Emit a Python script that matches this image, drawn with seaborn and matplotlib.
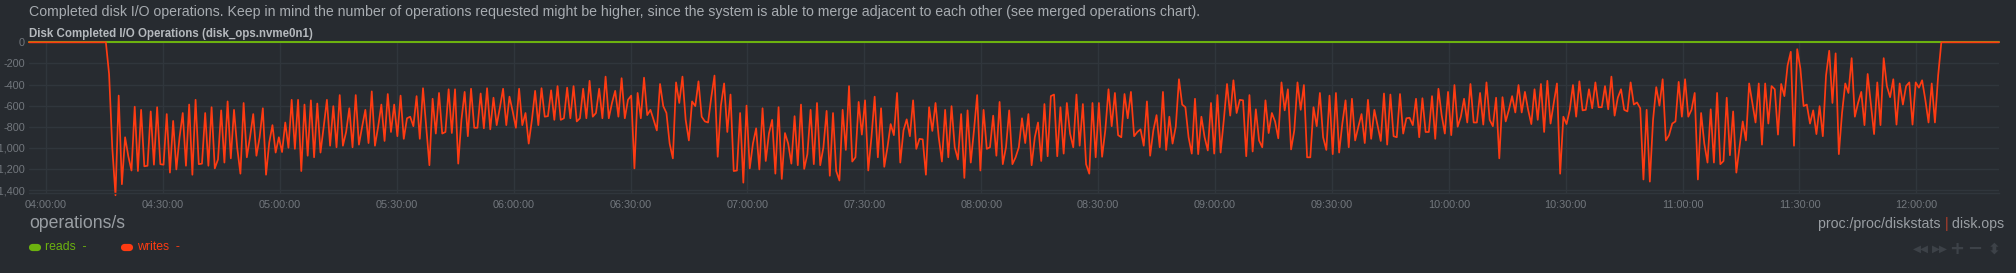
import numpy as np
import pandas as pd
import matplotlib
matplotlib.use("Agg")
import matplotlib.pyplot as plt
from matplotlib.lines import Line2D
import seaborn as sns

# ---------------- data ----------------
start_time = "2024-01-01 03:55:38"
end_time = "2024-01-01 12:21:12"

lead_zeros = [0] * 25
seg1 = [-300, -1000, -1450, -505, -1345, -900, -1080, -1215, -610, -1220,
        -640, -1175, -1170, -655, -1160, -615, -1155, -1160, -680, -1235,
        -745, -1205, -900, -670, -1170, -590, -1255, -545, -1155, -1150,
        -670, -1170, -615, -1195, -1110, -645, -1140, -560, -1100, -640,
        -1000, -1245, -575, -1090, -900, -680, -1075, -900, -625, -1255,
        -950, -785, -1045, -900, -1040, -760, -1000, -545, -1010, -545,
        -1220, -590, -1075, -550, -1090, -580, -1045, -800, -545, -980,
        -605, -995, -500, -980, -850, -625, -995, -500, -970, -800,
        -640, -955, -465, -980, -800, -590, -935, -490, -850, -590, -890]
seg2 = [-505, -915, -720, -705, -795, -510, -915, -435, -800, -1165,
        -535, -865, -480, -865, -850, -445, -860, -445, -1150, -735,
        -470, -890, -440, -810, -810, -485, -815, -435, -825, -525,
        -785, -620, -440, -785, -515, -655, -810, -440, -785, -670,
        -960, -735, -460, -785, -435, -705, -700, -455, -735, -415,
        -735, -720, -430, -720, -415, -750, -720, -440, -720, -365,
        -705, -670, -440, -720, -325, -720, -575, -460, -705, -340,
        -720, -545, -505, -1195, -480, -720, -335, -690, -640, -735,
        -835, -395, -605, -670, -960, -1100, -380, -575, -325, -735,
        -930, -560, -605, -370, -705, -750]
seg3 = [-760, -520, -315, -1085, -600, -390, -850, -495, -1220, -1215,
        -670, -1330, -600, -1195, -960, -815, -1205, -625, -1125, -865,
        -735, -1245, -615, -1295, -860, -960, -1150, -700, -1165, -590,
        -1200, -1060, -640, -1155, -575, -1165, -995, -650, -1265, -670,
        -1220, -1310, -640, -1020, -415, -1130, -1090, -565, -875, -550,
        -1215, -900, -515, -1090, -625, -1180, -995, -775, -880, -480,
        -1140, -835, -730, -890, -550, -1010, -915, -920, -1255, -615,
        -840, -575, -900, -1130, -640, -1090, -605, -995, -1110, -680,
        -1285, -645, -1140, -835, -500, -1215, -640, -1010, -995, -695,
        -1075, -565, -1155, -995, -645, -1155]
seg4 = [-1090, -995, -720, -955, -680, -1165, -900, -760, -1125, -585,
        -1080, -510, -495, -1080, -615, -1055, -575, -865, -995, -495,
        -980, -585, -1155, -1245, -575, -1090, -575, -1085, -835, -445,
        -795, -480, -880, -900, -490, -720, -470, -890, -850, -825,
        -980, -560, -1075, -835, -690, -995, -470, -1020, -705, -960,
        -800, -350, -590, -615, -900, -1055, -535, -1060, -705, -900,
        -1025, -575, -1055, -500, -1045, -735, -395, -695, -360, -670,
        -545, -550, -1080, -500, -1035, -635, -930, -995, -550, -860,
        -670, -750, -910, -380, -645, -445, -1015, -835, -380, -640,
        -405, -1090, -1090, -615, -795]
seg5 = [-480, -900, -1020, -505, -1060, -480, -1045, -770, -550, -995,
        -535, -930, -800, -680, -955, -545, -915, -640, -785, -935,
        -485, -970, -495, -890, -900, -490, -865, -720, -715, -785,
        -535, -900, -530, -850, -850, -510, -915, -440, -690, -865,
        -470, -880, -405, -800, -705, -535, -760, -395, -760, -760,
        -480, -780, -380, -735, -795, -525, -1100, -520, -750, -640,
        -510, -665, -405, -665, -470, -640, -775, -445, -735, -395,
        -850, -365, -770, -575, -390, -1245, -705, -775, -640, -405,
        -705, -370, -645, -640, -445, -625, -380, -615, -615, -415,
        -635, -325, -695, -525, -445, -640]
seg6 = [-655, -380, -590, -570, -625, -1300, -640, -1320, -735, -425,
        -600, -350, -930, -880, -770, -750, -375, -705, -350, -705,
        -640, -480, -1300, -670, -960, -1140, -635, -1140, -480, -1155,
        -1125, -525, -1070, -655, -1235, -995, -750, -930, -390, -575,
        -760, -390, -970, -390, -770, -415, -445, -875, -395, -510,
        -220, -90, -980, -65, -250, -605, -590, -770, -645, -870,
        -605, -890, -315, -80, -575, -105, -1060, -670, -390, -480,
        -150, -705, -575, -470, -785, -300, -590, -870, -380, -785,
        -150, -415, -520, -350, -780, -390, -590, -415, -380, -780,
        -380, -430, -360, -545, -760, -390, -760, -315, 0]
trail_zeros = [0] * 18

writes = lead_zeros + seg1 + seg2 + seg3 + seg4 + seg5 + seg6 + trail_zeros
reads = [0] * len(writes)

y_ticks = [0, -200, -400, -600, -800, -1000, -1200, -1400]
x_tick_labels = ["04:00:00", "04:30:00", "05:00:00", "05:30:00", "06:00:00",
                 "06:30:00", "07:00:00", "07:30:00", "08:00:00", "08:30:00",
                 "09:00:00", "09:30:00", "10:00:00", "10:30:00", "11:00:00",
                 "11:30:00", "12:00:00"]

header = ("Completed disk I/O operations. Keep in mind the number of operations "
          "requested might be higher, since the system is able to merge adjacent "
          "to each other (see merged operations chart).")
chart_title = "Disk Completed I/O Operations (disk_ops.nvme0n1)"
units = "operations/s"
source_a = "proc:/proc/diskstats "
source_b = "|"
source_c = " disk.ops"

# ---------------- style ----------------
BG = "#272b30"
GRID = "#30363c"
GREEN = "#6cb20f"
RED = "#fe3b12"
TICK = "#72777d"
TEXT = "#a7acb1"
NARROW = ["Liberation Sans Narrow", "Liberation Sans"]

sns.set_theme(style="dark")
plt.rcParams["font.family"] = ["Liberation Sans", "DejaVu Sans"]

W, H = 2016, 273
fig = plt.figure(figsize=(W / 100, H / 100), dpi=100, facecolor=BG)
ax = fig.add_axes([29 / W, 79.7 / H, 1970 / W, 151 / H])
ax.set_facecolor(BG)

times = pd.date_range(start_time, end_time, periods=len(writes))
df = pd.DataFrame({"time": times, "reads": reads, "writes": writes})

sns.lineplot(data=df, x="time", y="reads", color=GREEN, lw=1.5, ax=ax)
sns.lineplot(data=df, x="time", y="writes", color=RED, lw=1.25, ax=ax)
for ln in ax.lines:
    ln.set_clip_on(False)
    ln.set_solid_joinstyle("round")

ax.set_xlim(times[0], times[-1])
ax.set_ylim(-1431, 0)
ax.set_xlabel("")
ax.set_ylabel("")

day = start_time.split(" ")[0]
xt = pd.to_datetime([f"{day} {t}" for t in x_tick_labels])
ax.set_xticks(xt)
ax.set_xticklabels(x_tick_labels)
ax.set_yticks(y_ticks)
ax.set_yticklabels([f"{v:,}" for v in y_ticks])
ax.tick_params(axis="both", length=0, colors=TICK, labelsize=7.8)
ax.tick_params(axis="x", pad=4.6)
ax.tick_params(axis="y", pad=2.9)
ax.grid(True, color=GRID, lw=1)
for s in ["top", "right", "left"]:
    ax.spines[s].set_visible(False)
ax.spines["bottom"].set_color(GRID)
ax.spines["bottom"].set_linewidth(1)

def fx(px):
    return px / W

def fy(py_from_top):
    return (H - py_from_top) / H

fig.text(fx(29), fy(11.6), header, color=TEXT, fontsize=10.15,
         family=NARROW, va="center", ha="left")
fig.text(fx(29), fy(33.5), chart_title, color="#b5b9bd", fontsize=8.3,
         fontweight="bold", va="center", ha="left")
fig.text(fx(29), fy(224), units, color="#999ea3", fontsize=12.7,
         family=NARROW, va="center", ha="left")

SRC = 10.2
t = fig.text(fx(2004), fy(224), source_c, color="#999ea3", fontsize=SRC,
             family=NARROW, va="center", ha="right")
fig.canvas.draw()
r = fig.canvas.get_renderer()
bb = t.get_window_extent(r)
t2 = fig.text(bb.x0 / W, fy(224), source_b, color="#b5402c", fontsize=SRC,
              family=NARROW, va="center", ha="right")
bb2 = t2.get_window_extent(r)
fig.text(bb2.x0 / W, fy(224), source_a, color="#999ea3", fontsize=SRC,
         family=NARROW, va="center", ha="right")

# legend
for x0, col, name in [(28, GREEN, "reads"), (120, RED, "writes")]:
    fig.add_artist(Line2D([fx(x0 + 4), fx(x0 + 9)], [fy(247), fy(247)],
                          transform=fig.transFigure, color=col, lw=5.2,
                          solid_capstyle="round"))
    fig.text(fx(x0 + 17), fy(247), f"{name}  -", color=col, fontsize=8.8,
             family=NARROW, va="center", ha="left")

# navigation icons
ICON = "#3d4248"
for xc, s, fs in [(1921, "\u25c0\u25c0", 7.5), (1940, "\u25b6\u25b6", 7.5),
                  (1957, "+", 13), (1975, "\u2212", 13), (1994, "\u2b0d", 11)]:
    fig.text(fx(xc), fy(249), s, color=ICON, fontsize=fs, fontweight="bold",
             family=["DejaVu Sans"], va="center", ha="center")

fig.savefig("out.png", dpi=100, facecolor=BG)
